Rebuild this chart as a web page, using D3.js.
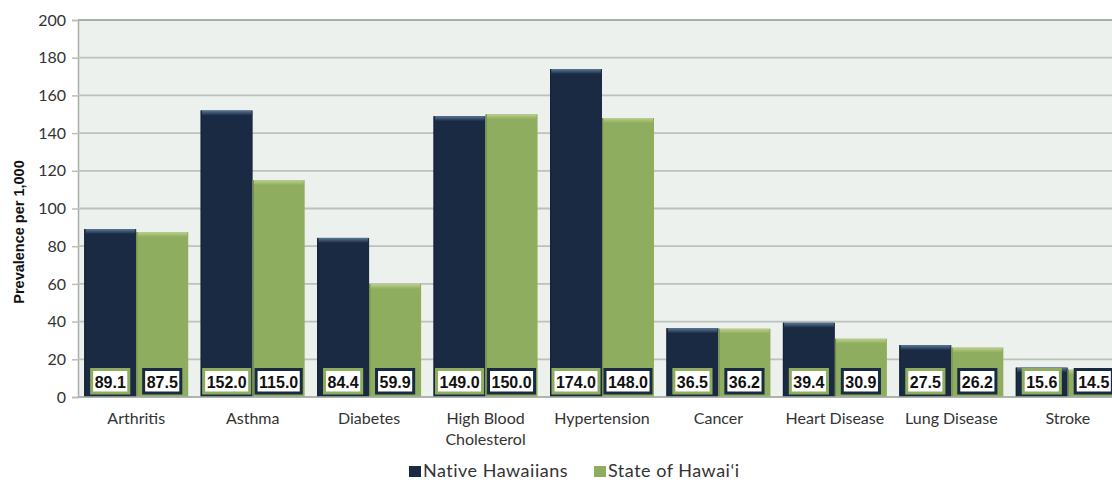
<!DOCTYPE html>
<html><head><meta charset="utf-8">
<script src="https://cdn.jsdelivr.net/npm/d3@7"></script>
<style>body{margin:0;background:#fff}svg{display:block}</style>
</head><body>
<svg id="chart" width="1112" height="482"></svg>
<script>
const categories = ["Arthritis","Asthma","Diabetes","High Blood|Cholesterol","Hypertension","Cancer","Heart Disease","Lung Disease","Stroke"];
const nativeValues = [89.1,152.0,84.4,149.0,174.0,36.5,39.4,27.5,15.6];
const stateValues = [87.5,115.0,59.9,150.0,148.0,36.2,30.9,26.2,14.5];
const seriesNames = ["Native Hawaiians","State of Hawai\u2018i"];
const yTicks = [0,20,40,60,80,100,120,140,160,180,200];
const yTitle = "Prevalence per 1,000";

const colors = ["#1b2a43","#8fad5e"];
const tops = ["#5a7898","#bcd08c"];

const svg = d3.select("#chart");
const L = 78, R = 1126, T = 20, B = 397;
const x = d3.scaleBand().domain(categories).range([L, R]).padding(0);
const y = d3.scaleLinear().domain([0, 200]).range([B, T]);
const barW = 52;

const defs = svg.append("defs");
colors.forEach((c,i)=>{
  const g = defs.append("linearGradient").attr("id","top"+i).attr("x1",0).attr("x2",0).attr("y1",0).attr("y2",1);
  g.append("stop").attr("offset",0).attr("stop-color",tops[i]);
  g.append("stop").attr("offset",1).attr("stop-color",c);
});

// plot background
svg.append("rect").attr("x",L).attr("y",T).attr("width",R-L).attr("height",B-T).attr("fill","#ecf1ed");

// gridlines & ticks
const yAxis = d3.axisLeft(y).tickValues(yTicks).tickSize(6).tickPadding(6);
const ga = svg.append("g").attr("transform",`translate(${L},0)`).call(yAxis);
ga.select(".domain").attr("stroke","#a9aeaa").attr("stroke-width",1.5);
ga.selectAll(".tick line").attr("stroke","#b9beba").attr("stroke-width",1.5);
ga.selectAll(".tick text").attr("font-family","Lato, 'Open Sans', sans-serif").attr("font-size",16).attr("fill","#333");
svg.append("g").selectAll("line").data(yTicks).join("line")
  .attr("x1",L).attr("x2",R).attr("y1",d=>y(d)).attr("y2",d=>y(d))
  .attr("stroke",d=>d===200?"#a9aeaa":"#bcc1bd").attr("stroke-width",d=>d===200?2:1.8);

// bars
const groups = svg.append("g").selectAll("g").data(categories).join("g")
  .attr("transform",d=>`translate(${x(d)},0)`);
const off = (x.bandwidth() - 2*barW)/2;
[nativeValues, stateValues].forEach((vals, s) => {
  groups.each(function(d,i){
    const g = d3.select(this);
    const bx = off + s*barW;
    const v = vals[i];
    g.append("rect").attr("x",bx).attr("y",y(v)).attr("width",barW).attr("height",B-y(v)).attr("fill",colors[s]);
    g.append("rect").attr("x",bx+1).attr("y",y(v)).attr("width",barW-2).attr("height",Math.min(5,B-y(v))).attr("fill",`url(#top${s})`);
    g.append("rect").attr("x",bx).attr("y",y(v)).attr("width",1.2).attr("height",B-y(v)).attr("fill",d3.color(colors[s]).darker(0.6));
  });
});

// value labels
[nativeValues, stateValues].forEach((vals, s) => {
  groups.each(function(d,i){
    const g = d3.select(this);
    const cx = off + s*barW + barW/2;
    const lab = g.append("g");
    const r = lab.append("rect");
    const t = lab.append("text").attr("x",cx).attr("y",388).attr("text-anchor","middle")
      .attr("font-family","'Liberation Sans', Arial, sans-serif").attr("font-weight","bold").attr("font-size",16)
      .attr("fill","#111").text(vals[i].toFixed(1));
    const w = t.node().getComputedTextLength() + 6;
    r.attr("x",cx-w/2).attr("y",369.5).attr("width",w).attr("height",23.5)
      .attr("fill","#fff").attr("stroke",colors[1-s]).attr("stroke-width",3);
  });
});

// bottom axis line
svg.append("line").attr("x1",L).attr("x2",R).attr("y1",B).attr("y2",B).attr("stroke","#a9aeaa").attr("stroke-width",1.5);

// category labels
svg.append("g").selectAll("text").data(categories).join("text")
  .attr("x",d=>x(d)+x.bandwidth()/2).attr("y",424).attr("text-anchor","middle")
  .attr("font-family","Lato, 'Open Sans', sans-serif").attr("font-size",16).attr("fill","#333")
  .each(function(d){
    const parts = d.split("|");
    d3.select(this).selectAll("tspan").data(parts).join("tspan")
      .attr("x",x(d)+x.bandwidth()/2).attr("dy",(p,j)=>j===0?0:21).text(p=>p);
  });

// y title
svg.append("text").attr("transform","translate(24,232) rotate(-90)").attr("text-anchor","middle")
  .attr("font-family","'Liberation Sans', Arial, sans-serif").attr("font-weight","bold").attr("font-size",14.5)
  .attr("fill","#111").text(yTitle);

// legend
const leg = svg.append("g");
let lx = 409;
seriesNames.forEach((n,i)=>{
  leg.append("rect").attr("x",lx).attr("y",466).attr("width",12).attr("height",11).attr("fill",colors[i]);
  const t = leg.append("text").attr("x",lx+14).attr("y",477).attr("font-family","Lato, 'Open Sans', sans-serif")
    .attr("font-size",18).attr("letter-spacing",0.5).attr("fill","#333").text(n);
  lx += 14 + t.node().getComputedTextLength() + 26;
});
</script>
</body></html>
